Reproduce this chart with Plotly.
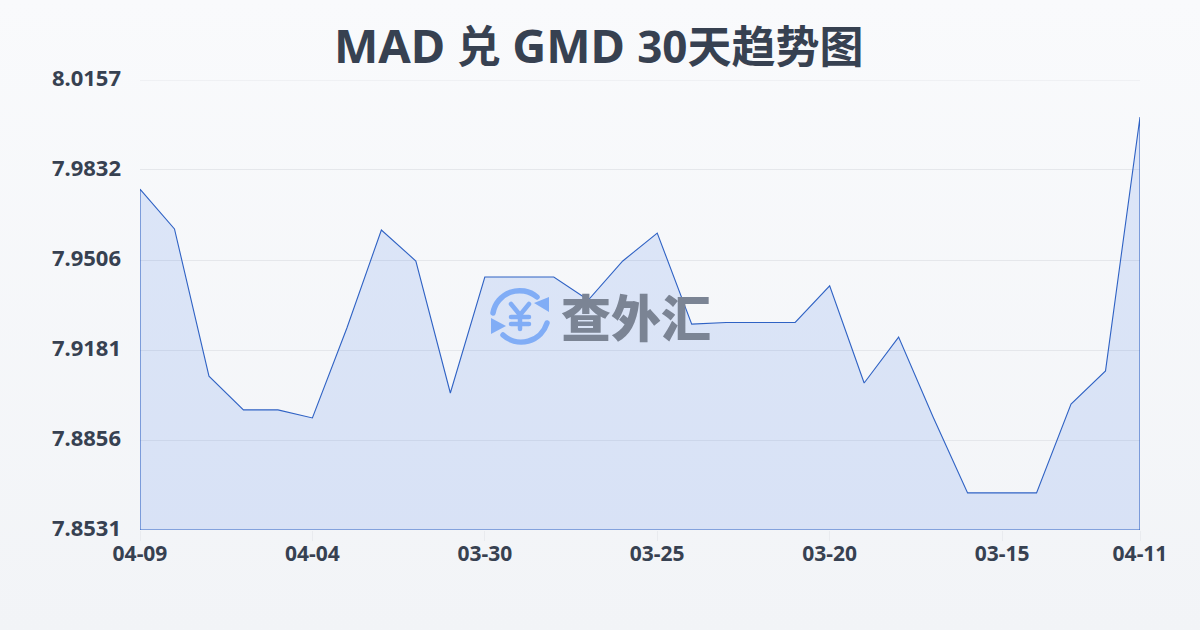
import base64
import plotly.graph_objects as go

TITLE_PARTS = [("MAD", 47), (" 兑 ", 44), ("GMD", 47), (" ", 47), ("30", 44), ("天趋势图", 44)]
dates = ["04-09", "04-08", "04-07", "04-06", "04-05", "04-04", "04-03", "04-02", "04-01", "03-31",
         "03-30", "03-29", "03-28", "03-27", "03-26", "03-25", "03-24", "03-23", "03-22", "03-21",
         "03-20", "03-19", "03-18", "03-17", "03-16", "03-15", "03-14", "03-13", "03-12", "04-11"]
rates = [7.9763, 7.9619, 7.9087, 7.8965, 7.8965, 7.8936, 7.9261, 7.9615, 7.9503, 7.9026,
         7.9445, 7.9445, 7.9445, 7.9362, 7.9503, 7.9604, 7.9275, 7.9281, 7.9281, 7.9281,
         7.9413, 7.9062, 7.9228, 7.8939, 7.8665, 7.8665, 7.8665, 7.8986, 7.9106, 8.0023]
y_ticks = [7.8531, 7.8856, 7.9181, 7.9506, 7.9832, 8.0157]
y_labels = ["7.8531", "7.8856", "7.9181", "7.9506", "7.9832", "8.0157"]
x_tick_labels = ["04-09", "04-04", "03-30", "03-25", "03-20", "03-15", "04-11"]

svg = """<svg xmlns='http://www.w3.org/2000/svg' width='1200' height='630' viewBox='0 0 1200 630'>
<defs><linearGradient id='g' x1='0' y1='0' x2='0' y2='1'><stop offset='0' stop-color='#f9fafc'/><stop offset='1' stop-color='#f2f4f7'/></linearGradient></defs>
<rect width='1200' height='630' fill='url(#g)'/>
<g fill='none' stroke='#8fb8f8' stroke-linecap='round'>
<path d='M493 313 A27 27 0 0 1 537 297' stroke-width='5.5'/>
<path d='M547 323 A27 27 0 0 1 503 335' stroke-width='5.5'/>
<path d='M511 304 L520 315 L529 304 M520 315 V329 M511 317 H529 M511 324 H529' stroke-width='4.5'/>
</g>
<path d='M549 297 L549 312 L534 303 Z M491 318 L491 334 L506 326 Z' fill='#8fb8f8'/>
</svg>"""
bg = "data:image/svg+xml;base64," + base64.b64encode(svg.encode()).decode()

title_html = "<b>" + "".join(f'<span style="font-size:{s}px">{t}</span>' for t, s in TITLE_PARTS) + "</b>"

base = y_ticks[0]
fig = go.Figure(go.Scatter(
    x=dates + [dates[-1], dates[0], dates[0]],
    y=rates + [base, base, rates[0]],
    mode="lines",
    line=dict(color="#2f62c4", width=1.1),
    fill="toself",
    fillcolor="rgba(37,99,235,0.13)",
    hoverinfo="skip",
    cliponaxis=False,
))
fig.update_layout(
    width=1200, height=630,
    margin=dict(l=140, r=60, t=80, b=100),
    paper_bgcolor="#f5f6f9",
    plot_bgcolor="rgba(0,0,0,0)",
    showlegend=False,
    font=dict(family="'Noto Sans', 'Noto Sans CJK SC', sans-serif", color="#374151"),
    images=[dict(source=bg, xref="paper", yref="paper", x=-0.14, y=530 / 450, sizex=1.2,
                 sizey=1.4, xanchor="left", yanchor="top", sizing="stretch", layer="below")],
    shapes=[dict(type="line", xref="paper", yref="y", x0=0, x1=1, y0=y_ticks[-1], y1=y_ticks[-1],
                 line=dict(color="#e5e7eb", width=1), layer="below")],
    annotations=[
        dict(text=title_html, xref="paper", yref="paper", x=0.458, y=1.078, yanchor="middle",
             xanchor="center", showarrow=False, font=dict(size=44, color="#374151")),
        dict(text="查外汇", xref="paper", yref="paper", x=0.496, y=0.478, xanchor="center",
             yanchor="middle", showarrow=False,
             font=dict(size=50, color="#7b8494", weight=900, family="'Noto Sans CJK SC', sans-serif")),
    ],
    xaxis=dict(type="category", categoryorder="array", categoryarray=dates, range=[0, len(dates) - 1],
               tickmode="array", tickvals=x_tick_labels, ticktext=[f"<b>{t}</b>" for t in x_tick_labels],
               showgrid=False, zeroline=False, showline=False, ticks="outside", ticklen=10, tickcolor="#e9ebef",
               ticklabelstandoff=-5, tickfont=dict(size=21, color="#374151")),
    yaxis=dict(range=[y_ticks[0], y_ticks[-1]], tickmode="array", tickvals=y_ticks,
               ticktext=[f"<b>{t}</b>" for t in y_labels], showgrid=True, gridcolor="#e5e7eb", gridwidth=1,
               zeroline=False, showline=False, ticks="", ticklabelstandoff=18, ticklabelshift=-2,
               tickfont=dict(size=22, color="#374151")),
)
fig.write_html("out.html", config=dict(displayModeBar=False),
               post_script="document.body.style.margin='0';document.documentElement.style.overflow='hidden';")
